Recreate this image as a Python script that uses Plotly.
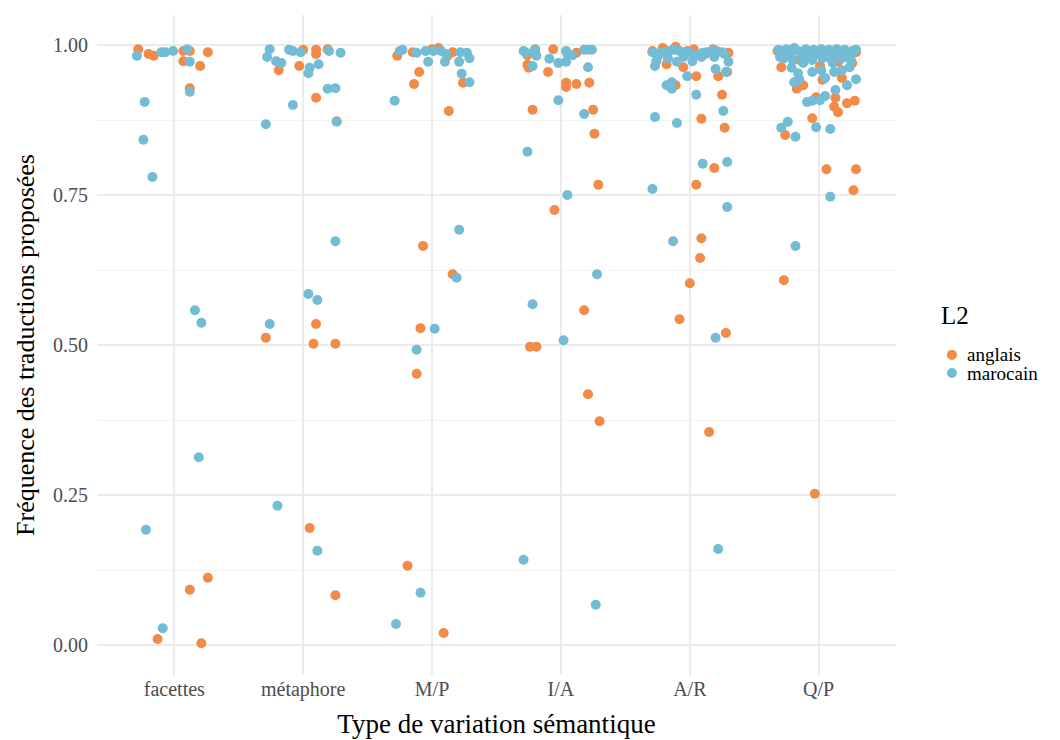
import plotly.graph_objects as go

categories = ["facettes", "métaphore", "M/P", "I/A", "A/R", "Q/P"]
tick_values_y = [0.0, 0.25, 0.5, 0.75, 1.0]
tick_labels_y = ["0.00", "0.25", "0.50", "0.75", "1.00"]

# jitter (category units) and frequency values
anglais_jit = {
    "facettes": [-0.28, -0.20, -0.16, 0.07, 0.12, 0.07, 0.20, 0.26, 0.12, 0.26, 0.12, -0.13, 0.21],
    "métaphore": [0.00, 0.10, 0.10, 0.19, -0.19, -0.03, 0.10, 0.26, 0.10, -0.29, 0.08, 0.25, 0.05, 0.25],
    "M/P": [-0.27, -0.15, 0.05, 0.00, 0.16, 0.12, -0.10, -0.14, 0.24, 0.13, -0.07, 0.16, -0.09, -0.12, -0.19, 0.09],
    "I/A": [-0.20, -0.06, 0.12, -0.26, -0.26, -0.25, -0.10, 0.04, 0.04, 0.12, 0.22, -0.22, 0.25, 0.26, 0.29, -0.05,
            0.18, -0.24, -0.19, 0.21, 0.30],
    "A/R": [-0.29, -0.21, -0.11, 0.03, 0.30, -0.18, -0.05, 0.05, -0.11, 0.22, 0.29, 0.25, 0.09, 0.27, 0.19, 0.05,
            0.09, 0.08, 0.00, -0.08, 0.28, 0.15, 0.18, -0.02, 0.12],
    "Q/P": [-0.29, -0.17, 0.03, 0.18, -0.02, 0.13, 0.22, 0.28, 0.12, 0.15, -0.05, -0.26, 0.06, 0.29, 0.27, 0.26,
            0.29, 0.01, -0.12, -0.27, -0.03, -0.32, -0.22, 0.20, -0.15, 0.15],
}
anglais_val = {
    "facettes": [0.993, 0.985, 0.982, 0.990, 0.990, 0.973, 0.965, 0.988, 0.928, 0.112, 0.092, 0.010, 0.003],
    "métaphore": [0.992, 0.992, 0.985, 0.993, 0.958, 0.965, 0.912, 0.873, 0.535, 0.512, 0.502, 0.502, 0.195, 0.083],
    "M/P": [0.982, 0.988, 0.995, 0.993, 0.988, 0.982, 0.955, 0.935, 0.937, 0.890, 0.665, 0.618, 0.528, 0.452, 0.132, 0.020],
    "I/A": [0.993, 0.993, 0.987, 0.983, 0.967, 0.962, 0.955, 0.937, 0.930, 0.935, 0.937, 0.892, 0.892, 0.852, 0.767,
            0.725, 0.558, 0.497, 0.497, 0.418, 0.373],
    "A/R": [0.990, 0.995, 0.997, 0.993, 0.987, 0.968, 0.963, 0.948, 0.933, 0.948, 0.955, 0.917, 0.877, 0.862, 0.795,
            0.767, 0.678, 0.645, 0.603, 0.543, 0.520, 0.355, 0.993, 0.990, 0.985],
    "Q/P": [0.963, 0.927, 0.942, 0.945, 0.913, 0.912, 0.903, 0.907, 0.897, 0.888, 0.878, 0.850, 0.793, 0.793, 0.758,
            0.970, 0.988, 0.965, 0.933, 0.608, 0.252, 0.990, 0.983, 0.983, 0.975, 0.972],
}
marocain_jit = {
    "facettes": [-0.29, -0.10, -0.07, -0.01, 0.10, 0.12, 0.12, -0.23, -0.24, -0.17, 0.16, 0.21, 0.19, -0.22, -0.09],
    "métaphore": [-0.26, -0.28, -0.11, -0.08, -0.02, -0.21, -0.17, 0.05, 0.04, 0.12, 0.20, 0.29, 0.19, 0.25, -0.08,
                  -0.29, 0.26, 0.25, 0.04, 0.11, -0.26, -0.20, 0.11],
    "M/P": [-0.25, -0.23, -0.12, -0.05, 0.01, 0.07, 0.11, 0.22, 0.27, 0.29, -0.03, 0.10, 0.21, 0.23, 0.29, -0.29,
            0.21, 0.19, 0.02, -0.12, -0.09, -0.28],
    "I/A": [-0.29, -0.27, -0.20, -0.19, -0.09, -0.02, 0.04, 0.05, 0.09, 0.04, 0.18, 0.21, 0.24, -0.22, 0.21, -0.02,
            0.18, -0.26, 0.05, 0.28, -0.22, 0.02, -0.29, 0.27],
    "A/R": [-0.29, -0.26, -0.27, -0.23, -0.19, -0.16, -0.12, -0.08, -0.04, 0.00, 0.02, -0.10, 0.09, 0.13, 0.17, 0.21,
            0.25, 0.27, 0.10, 0.19, 0.30, -0.02, 0.20, 0.28, -0.18, -0.14, -0.14, 0.05, 0.26, -0.27, -0.10, 0.10,
            0.29, -0.29, 0.29, -0.13, 0.20, 0.22, -0.25, -0.17, 0.04, -0.05],
    "Q/P": [-0.18, 0.09, -0.24, -0.29, -0.18, -0.02, 0.09, -0.09, -0.05, 0.01, 0.05, 0.13, 0.22, 0.29, -0.19, -0.15,
            0.05, 0.12, 0.18, 0.24, -0.21, -0.16, -0.05, 0.02, -0.12, 0.11, 0.24,
            -0.31, -0.28, -0.25, -0.22, -0.19, -0.16, -0.13, -0.10, -0.07, -0.04, -0.01, 0.02, 0.05, 0.08, 0.11, 0.14,
            0.17, 0.20, 0.23, 0.26, 0.29, -0.27, -0.20, -0.12, -0.05, 0.03, 0.10, 0.18, 0.25, -0.30],
}
marocain_val = {
    "facettes": [0.982, 0.988, 0.988, 0.990, 0.993, 0.972, 0.922, 0.905, 0.842, 0.780, 0.558, 0.537, 0.313, 0.192, 0.028],
    "métaphore": [0.993, 0.980, 0.992, 0.990, 0.988, 0.973, 0.970, 0.962, 0.953, 0.968, 0.990, 0.987, 0.927, 0.928,
                  0.900, 0.868, 0.872, 0.673, 0.585, 0.575, 0.535, 0.232, 0.157],
    "M/P": [0.990, 0.992, 0.987, 0.990, 0.990, 0.990, 0.985, 0.988, 0.987, 0.978, 0.972, 0.972, 0.972, 0.952, 0.938,
            0.907, 0.692, 0.612, 0.527, 0.492, 0.087, 0.035],
    "I/A": [0.990, 0.987, 0.992, 0.982, 0.977, 0.970, 0.990, 0.985, 0.983, 0.972, 0.992, 0.992, 0.992, 0.965, 0.963,
            0.908, 0.885, 0.822, 0.750, 0.618, 0.568, 0.508, 0.142, 0.067],
    "A/R": [0.988, 0.973, 0.965, 0.987, 0.988, 0.990, 0.992, 0.990, 0.988, 0.987, 0.973, 0.972, 0.980, 0.988, 0.990,
            0.990, 0.988, 0.985, 0.987, 0.980, 0.972, 0.948, 0.960, 0.955, 0.933, 0.938, 0.927, 0.917, 0.890, 0.880,
            0.870, 0.802, 0.805, 0.760, 0.730, 0.673, 0.512, 0.160, 0.980, 0.978, 0.983, 0.980],
    "Q/P": [0.665, 0.747, 0.872, 0.862, 0.847, 0.863, 0.860, 0.905, 0.907, 0.908, 0.915, 0.925, 0.933, 0.943, 0.938,
            0.942, 0.945, 0.955, 0.958, 0.963, 0.962, 0.953, 0.955, 0.958, 0.970, 0.970, 0.978,
            0.992, 0.985, 0.993, 0.988, 0.995, 0.990, 0.985, 0.993, 0.988, 0.992, 0.985, 0.993, 0.988, 0.992, 0.985,
            0.993, 0.988, 0.992, 0.985, 0.990, 0.992, 0.978, 0.975, 0.978, 0.975, 0.978, 0.975, 0.978, 0.975, 0.980],
}

series_names = ["anglais", "marocain"]
colors = {"anglais": "#F28A48", "marocain": "#72BCD6"}
FONT = "Liberation Serif"


def build(jit, val):
    xs, ys = [], []
    for i, c in enumerate(categories):
        xs += [i + 1 + j for j in jit[c]]
        ys += val[c]
    return xs, ys


fig = go.Figure()
for name, jit, val in [("anglais", anglais_jit, anglais_val), ("marocain", marocain_jit, marocain_val)]:
    xs, ys = build(jit, val)
    fig.add_trace(go.Scatter(
        x=xs, y=ys, mode="markers", name=name, showlegend=False,
        marker=dict(color=colors[name], size=10, line=dict(width=0)),
    ))

# manual legend (paper coordinates)
annotations = [dict(text="L2", xref="paper", yref="paper", x=1.054, y=0.545, xanchor="left", yanchor="middle",
                    showarrow=False, font=dict(size=25, color="black", family=FONT))]
shapes = []
for k, name in enumerate(series_names):
    yp = 0.485 - k * 0.0275
    annotations.append(dict(text=name, xref="paper", yref="paper", x=1.086, y=yp, xanchor="left",
                            yanchor="middle", showarrow=False,
                            font=dict(size=19, color="black", family=FONT)))
    shapes.append(dict(type="circle", xref="paper", yref="paper", xsizemode="pixel", ysizemode="pixel",
                       xanchor=1.070, yanchor=yp, x0=-5, x1=5, y0=-5, y1=5,
                       fillcolor=colors[name], line=dict(width=0)))

fig.update_layout(
    width=1060, height=740,
    paper_bgcolor="white", plot_bgcolor="white",
    margin=dict(l=89, r=172, t=7, b=73),
    font=dict(family=FONT, size=20, color="#4D4D4D"),
    showlegend=False,
    annotations=annotations, shapes=shapes,
    xaxis=dict(
        range=[0.4, 6.6], tickvals=[1, 2, 3, 4, 5, 6], ticktext=categories,
        showgrid=True, gridcolor="#EBEBEB", gridwidth=2, zeroline=False,
        showline=False, ticks="", tickfont=dict(size=20, color="#4D4D4D"),
        title=dict(text="Type de variation sémantique", font=dict(size=27, color="black"), standoff=14),
    ),
    yaxis=dict(
        range=[-0.05, 1.05], tickvals=tick_values_y, ticktext=tick_labels_y,
        showgrid=True, gridcolor="#EBEBEB", gridwidth=2, zeroline=False,
        showline=False, ticks="", tickfont=dict(size=20, color="#4D4D4D"), ticklabelstandoff=8,
        minor=dict(tickvals=[0.125, 0.375, 0.625, 0.875], showgrid=True, gridcolor="#F2F2F2", gridwidth=1),
        title=dict(text="Fréquence des traductions proposées", font=dict(size=26, color="black"), standoff=10),
    ),
)

fig.write_html("out.html")
